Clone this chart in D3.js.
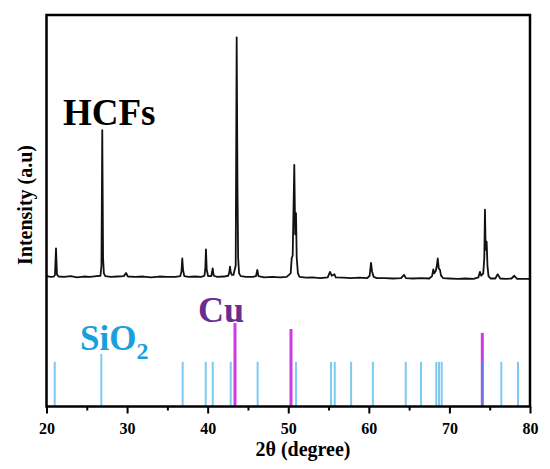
<!DOCTYPE html>
<html>
<head>
<meta charset="utf-8">
<script src="https://cdn.jsdelivr.net/npm/d3@7"></script>
<style>
	html, body { margin: 0; padding: 0; background: #fff; overflow: hidden; }
	svg { display: block; }
</style>
</head>
<body>
<div id="chart"></div>
<script>
'use strict';

// HCFs pattern, [2theta, intensity a.u.]
const hcfPattern = [
	[20.0, 333], [20.5, 331], [20.9, 332],
	[21.05, 336], [21.18, 404], [21.3, 337], [21.5, 332],
	[22.2, 331], [23.0, 333], [23.8, 330], [24.6, 332], [25.4, 331], [26.2, 333], [26.7, 334],
	[26.82, 360], [26.92, 706], [27.02, 380], [27.12, 340], [27.3, 333],
	[28.0, 331], [28.8, 332], [29.6, 333], [29.87, 341], [30.1, 332], [31.0, 331], [32.0, 332],
	[33.0, 330], [34.0, 332], [35.0, 331], [36.0, 331], [36.6, 333],
	[36.75, 345], [36.85, 378], [36.95, 348], [37.1, 333], [37.6, 331], [38.4, 332], [39.2, 331], [39.6, 334],
	[39.7, 350], [39.79, 401], [39.88, 350], [40.05, 333], [40.45, 333], [40.62, 353], [40.75, 334],
	[41.2, 331], [42.0, 332], [42.55, 334], [42.68, 342], [42.77, 357], [42.86, 343], [43.0, 336],
	[43.2, 336], [43.48, 360], [43.6, 943], [43.7, 560], [43.78, 380], [43.9, 340], [44.1, 333],
	[44.8, 331], [45.6, 331], [46.0, 333], [46.16, 349], [46.3, 333], [47.0, 330], [48.0, 331],
	[49.0, 330], [49.8, 331], [50.3, 340],
	[50.43, 379], [50.55, 385], [50.75, 617], [50.86, 440], [50.96, 494], [51.05, 380], [51.2, 340], [51.4, 331],
	[52.2, 329], [53.0, 330], [54.0, 328], [54.9, 330], [55.18, 344], [55.4, 334], [55.72, 338], [55.9, 330],
	[56.8, 329], [57.8, 328], [58.8, 329], [59.8, 328], [60.1, 334], [60.27, 367], [60.4, 345], [60.6, 331], [61.0, 328],
	[62.0, 328], [63.0, 327], [64.0, 328], [64.37, 336], [64.6, 328], [65.5, 327], [66.5, 328], [67.5, 327], [67.85, 333],
	[68.0, 350], [68.12, 340], [68.3, 346], [68.45, 360], [68.55, 378], [68.68, 352], [68.83, 349], [68.95, 335], [69.2, 328],
	[70.0, 327], [71.0, 326], [72.0, 327], [73.0, 326], [73.6, 330], [73.79, 344], [73.95, 334],
	[74.2, 340], [74.33, 380], [74.41, 503], [74.5, 400], [74.62, 421], [74.72, 360], [74.85, 333], [75.1, 327],
	[75.7, 327], [75.99, 338], [76.3, 327], [77.0, 326], [77.7, 327], [78.05, 334], [78.4, 326], [79.2, 326], [80.0, 326]
];

// reference sticks
const sio2Angles  = [21.02, 26.8, 36.9, 39.76, 40.63, 42.86, 46.2, 50.96, 55.3, 55.77, 57.8, 60.5, 64.58, 66.47, 68.37, 68.71, 69.04, 74.08, 76.44, 78.51];
const sio2Heights = [114, 134, 114, 114, 114, 114, 114, 114, 114, 114, 114, 114, 114, 114, 114, 114, 114, 114, 114, 114];
const cuAngles    = [43.39, 50.34, 74.08];
const cuHeights   = [213, 198, 188];

const xMajorTicks = [20, 30, 40, 50, 60, 70, 80];
const xMinorTicks = [25, 35, 45, 55, 65, 75];

const serif = "'Liberation Serif', 'DejaVu Serif', 'Times New Roman', serif";

const margin = {top: 15, right: 20, bottom: 62.5, left: 46.5};
const width = 550 - margin.left - margin.right;
const height = 469 - margin.top - margin.bottom;

const svg = d3.select('#chart').append('svg')
	.attr('width', 550)
	.attr('height', 469);

const g = svg.append('g')
	.attr('transform', 'translate(' + margin.left + ',' + margin.top + ')');

const x = d3.scaleLinear().domain([20, 80]).range([0, width]);
const y = d3.scaleLinear().domain([0, 1000]).range([height, 0]);

// frame first, marks on top
svg.append('rect')
	.attr('x', margin.left).attr('y', margin.top)
	.attr('width', width).attr('height', height)
	.attr('fill', 'none')
	.attr('stroke', '#000')
	.attr('stroke-width', 2.5);

// Cu sticks
g.selectAll('line.cu')
	.data(cuAngles)
	.enter().append('line')
	.attr('class', 'cu')
	.attr('x1', d => x(d)).attr('x2', d => x(d))
	.attr('y1', y(0))
	.attr('y2', (d, i) => y(cuHeights[i]))
	.attr('stroke', '#cc3ddf')
	.attr('stroke-width', 3);

// SiO2 sticks (drawn over Cu, a bit transparent)
g.selectAll('line.sio2')
	.data(sio2Angles)
	.enter().append('line')
	.attr('class', 'sio2')
	.attr('x1', d => x(d)).attr('x2', d => x(d))
	.attr('y1', y(0))
	.attr('y2', (d, i) => y(sio2Heights[i]))
	.attr('stroke', '#25a7e6')
	.attr('stroke-opacity', 0.6)
	.attr('stroke-width', 2);

// measured pattern
const lineDrawer = d3.line()
	.x(d => x(d[0]))
	.y(d => y(d[1]));

g.append('path')
	.attr('d', lineDrawer(hcfPattern))
	.attr('fill', 'none')
	.attr('stroke', '#111')
	.attr('stroke-width', 1.8)
	.attr('stroke-linejoin', 'round');

// axis
const xAxis = d3.axisBottom(x)
	.tickValues(xMajorTicks)
	.tickSize(7)
	.tickPadding(9)
	.tickFormat(d3.format('d'));

const xAxisMinor = d3.axisBottom(x)
	.tickValues(xMinorTicks)
	.tickSize(4)
	.tickFormat('');

g.append('g')
	.attr('class', 'x axis minor')
	.attr('transform', 'translate(0,' + height + ')')
	.call(xAxisMinor)
	.call(s => s.select('.domain').remove());

g.append('g')
	.attr('class', 'x axis')
	.attr('transform', 'translate(0,' + height + ')')
	.call(xAxis)
	.call(s => s.select('.domain').remove())
	.selectAll('text')
		.attr('fill', '#000')
		.style('font-family', serif)
		.style('font-weight', 'bold')
		.style('font-size', '16px');

g.selectAll('.axis line')
	.attr('stroke', '#000')
	.attr('stroke-width', 2);

// labels
function label(px, py, txt, size, color) {
	return svg.append('text')
		.attr('x', px).attr('y', py)
		.style('font-family', serif)
		.style('font-weight', 'bold')
		.style('font-size', size + 'px')
		.attr('fill', color)
		.text(txt);
}

label(303, 456, '2θ (degree)', 20, '#000')
	.attr('text-anchor', 'middle');

label(0, 0, 'Intensity (a.u)', 20, '#000')
	.attr('transform', 'translate(32,205) rotate(-90)')
	.attr('text-anchor', 'middle');

label(63, 125, 'HCFs', 37, '#000');
label(198, 322, 'Cu', 36, '#6a2c91');

const sio2Label = label(80, 350, 'SiO', 35, '#1a9fdc');
sio2Label.append('tspan')
	.attr('dy', 9)
	.style('font-size', '24px')
	.text('2');
</script>
</body>
</html>
